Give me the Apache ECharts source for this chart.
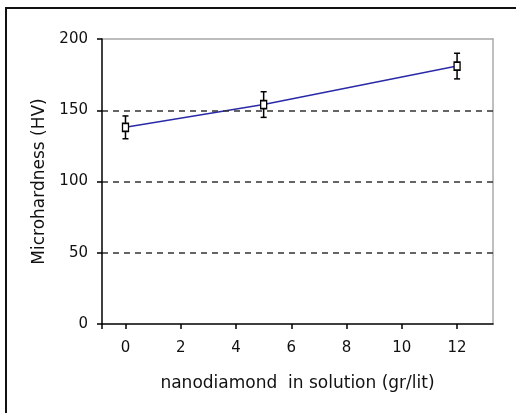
<!DOCTYPE html>
<html>
<head>
<meta charset="utf-8">
<script src="https://cdn.jsdelivr.net/npm/echarts@6/dist/echarts.min.js"></script>
<style>
	html, body { margin: 0; padding: 0; background: #fff; }
	#chart { width: 516px; height: 413px; }
</style>
</head>
<body>
<div id="chart"></div>
<script>
// nanodiamond concentration (gr/lit)
var concentration = [0, 5, 12];
// microhardness (HV) and its error
var hardness = [138, 154, 181];
var hardnessErr = [8, 9, 9];

var xTicks = [0, 2, 4, 6, 8, 10, 12];
var xMin = -0.85;
var xMax = 13.3;

var font = 'DejaVu Sans, Verdana, sans-serif';

var chart = echarts.init(document.getElementById('chart'));

var points = concentration.map(function (c, i) { return [c, hardness[i]]; });
var bars = concentration.map(function (c, i) {
	return [c, hardness[i] - hardnessErr[i], hardness[i] + hardnessErr[i]];
});

chart.setOption({
	animation: false,
	backgroundColor: '#fff',
	graphic: [{
		type: 'rect',
		shape: { x: 6, y: 8, width: 530, height: 430 },
		style: { fill: 'none', stroke: '#111', lineWidth: 2 },
		silent: true
	}],
	grid: {
		left: 102,
		right: 23,
		top: 39,
		bottom: 89
	},
	xAxis: [{
		type: 'value',
		min: xMin,
		max: xMax,
		name: 'nanodiamond  in solution (gr/lit)',
		nameLocation: 'middle',
		nameGap: 51,
		nameTextStyle: { fontFamily: font, fontSize: 17, color: '#111' },
		axisLine: { onZero: false, lineStyle: { color: '#000', width: 1.5 } },
		axisTick: {
			show: true,
			length: 5,
			customValues: [xMin].concat(xTicks),
			lineStyle: { color: '#000', width: 1.5 }
		},
		axisLabel: {
			customValues: xTicks,
			margin: 17,
			fontFamily: font,
			fontSize: 15,
			color: '#111'
		},
		splitLine: { show: false },
		z: 5
	}, {
		// plain grey frame on top
		type: 'value',
		position: 'top',
		min: xMin,
		max: xMax,
		axisLine: { show: true, onZero: false, lineStyle: { color: '#a8a8a8', width: 1.5 } },
		axisTick: { show: false },
		axisLabel: { show: false },
		splitLine: { show: false }
	}],
	yAxis: [{
		type: 'value',
		min: 0,
		max: 200,
		interval: 50,
		name: 'Microhardness (HV)',
		nameLocation: 'middle',
		nameGap: 52,
		nameTextStyle: { fontFamily: font, fontSize: 17, color: '#111' },
		axisLine: { show: true, onZero: false, lineStyle: { color: '#000', width: 1.5 } },
		axisTick: { show: true, length: 5, lineStyle: { color: '#000', width: 1.5 } },
		axisLabel: { margin: 14, fontFamily: font, fontSize: 15, color: '#111' },
		splitLine: {
			show: true,
			lineStyle: {
				color: ['transparent', '#333', '#333', '#333', 'transparent'],
				width: 1.5,
				type: [6, 5]
			}
		},
		z: 5
	}, {
		// plain grey frame on the right
		type: 'value',
		position: 'right',
		min: 0,
		max: 200,
		axisLine: { show: true, onZero: false, lineStyle: { color: '#a8a8a8', width: 1.5 } },
		axisTick: { show: false },
		axisLabel: { show: false },
		splitLine: { show: false }
	}],
	series: [{
		type: 'line',
		data: points,
		lineStyle: { color: '#2a2aa8', width: 1.5 },
		symbol: 'rect',
		symbolSize: [6, 8],
		showAllSymbol: true,
		itemStyle: { color: '#fff', borderColor: '#000', borderWidth: 1.5 },
		z: 3
	}, {
		type: 'custom',
		data: bars,
		z: 2,
		renderItem: function (params, api) {
			var top = api.coord([api.value(0), api.value(2)]);
			var bottom = api.coord([api.value(0), api.value(1)]);
			var cap = 3;
			var style = { stroke: '#000', lineWidth: 1.5 };
			return {
				type: 'group',
				children: [{
					type: 'line',
					shape: { x1: top[0], y1: top[1], x2: bottom[0], y2: bottom[1] },
					style: style
				}, {
					type: 'line',
					shape: { x1: top[0] - cap, y1: top[1], x2: top[0] + cap, y2: top[1] },
					style: style
				}, {
					type: 'line',
					shape: { x1: bottom[0] - cap, y1: bottom[1], x2: bottom[0] + cap, y2: bottom[1] },
					style: style
				}]
			};
		}
	}]
});
</script>
</body>
</html>
